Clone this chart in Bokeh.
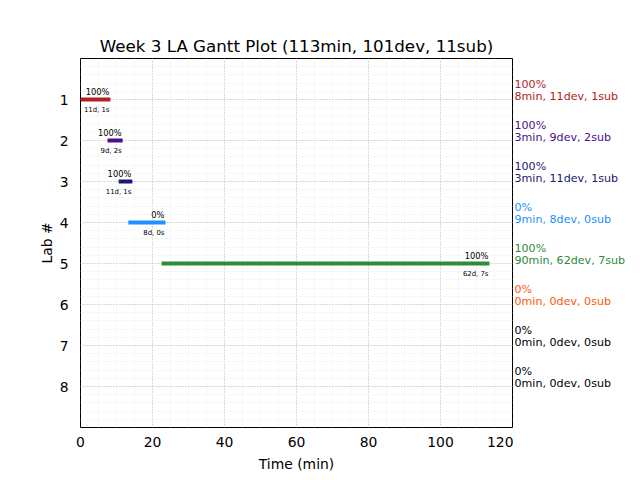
from bokeh.plotting import figure
from bokeh.layouts import row
from bokeh.models import FixedTicker, ColumnDataSource
from bokeh.core.properties import value
from bokeh.embed import file_html
from bokeh.resources import INLINE

# ---- data ----
labs = [1, 2, 3, 4, 5]
starts = [0.0, 7.5, 10.6, 13.3, 22.5]
ends = [8.3, 11.7, 14.4, 23.6, 113.6]
bar_pct = ["100%", "100%", "100%", "0%", "100%"]
bar_counts = ["11d, 1s", "9d, 2s", "11d, 1s", "8d, 0s", "62d, 7s"]
bar_colors = ["#b22222", "#4b0f8a", "#191970", "#1e90ff", "#2e8b3a"]

all_labs = [1, 2, 3, 4, 5, 6, 7, 8]
summary_pct = ["100%", "100%", "100%", "0%", "100%", "0%", "0%", "0%"]
summary_stats = ["8min, 11dev, 1sub", "3min, 9dev, 2sub", "3min, 11dev, 1sub",
                 "9min, 8dev, 0sub", "90min, 62dev, 7sub", "0min, 0dev, 0sub",
                 "0min, 0dev, 0sub", "0min, 0dev, 0sub"]
summary_colors = ["#b22222", "#4b0f8a", "#191970", "#1e90ff", "#2e8b3a",
                  "#ff5a0a", "#000000", "#000000"]
x_ticks = [0, 20, 40, 60, 80, 100, 120]
title_text = "Week 3 LA Gantt Plot (113min, 101dev, 11sub)"

FONT = "DejaVu Sans"
TOP, BOTTOM, FW, FH = 58, 45, 432, 369

p = figure(width=80 + FW + 1, height=TOP + FH + BOTTOM, x_range=(0, 120),
           y_range=(9, 0), output_backend="svg", toolbar_location=None,
           title=title_text, min_border_left=80, min_border_right=1,
           min_border_top=TOP, min_border_bottom=BOTTOM)
p.frame_width = FW
p.frame_height = FH

p.title.text_font = FONT
p.title.text_font_size = "16.7px"
p.title.text_font_style = "normal"
p.title.text_color = "black"
p.title.align = "center"
p.title.standoff = 6

p.outline_line_color = "black"
p.outline_line_width = 1
p.background_fill_color = "white"
p.border_fill_color = "white"

p.xaxis.ticker = FixedTicker(ticks=x_ticks, minor_ticks=list(range(0, 121, 5)))
p.yaxis.ticker = FixedTicker(ticks=all_labs, minor_ticks=[i / 5 for i in range(0, 46)])

for ax in (p.xaxis, p.yaxis):
    ax.axis_line_color = None
    ax.major_tick_line_color = None
    ax.minor_tick_line_color = None
    ax.major_label_text_font = FONT
    ax.major_label_text_font_size = "13.9px"
    ax.major_label_text_color = "black"
    ax.axis_label_text_font = FONT
    ax.axis_label_text_font_size = "13.9px"
    ax.axis_label_text_font_style = "normal"
    ax.axis_label_text_color = "black"
p.xaxis.axis_label = "Time (min)"
p.yaxis.axis_label = "Lab #"
p.xaxis.major_label_standoff = 3
p.yaxis.major_label_standoff = 6
p.xaxis.axis_label_standoff = 6
p.yaxis.axis_label_standoff = 2

for g in (p.xgrid, p.ygrid):
    g.grid_line_color = "#b0b0b0"
    g.grid_line_dash = "1 2"
    g.grid_line_width = 0.8
    g.minor_grid_line_color = "#f5f5f5"
    g.minor_grid_line_width = 0.8

src = ColumnDataSource(dict(lab=labs, start=starts, end=ends, pct=bar_pct,
                            counts=bar_counts, color=bar_colors))
p.segment(x0="start", y0="lab", x1="end", y1="lab", source=src,
          line_color="color", line_width=4, line_cap="butt")
p.text(x="end", y="lab", text="pct", source=src, text_align="right",
       text_baseline="alphabetic", y_offset=-8, x_offset=-1,
       text_font=value(FONT), text_font_size="8.3px", text_color="black")
p.text(x="end", y="lab", text="counts", source=src, text_align="right",
       text_baseline="alphabetic", y_offset=10, x_offset=-1,
       text_font=value(FONT), text_font_size="6.9px", text_color="black")

# right-hand summary column, sharing the lab axis
s = figure(width=119, height=TOP + FH + BOTTOM, x_range=(0, 1), y_range=p.y_range,
           output_backend="svg", toolbar_location=None,
           min_border_left=0, min_border_right=0,
           min_border_top=TOP, min_border_bottom=BOTTOM)
s.frame_width = 119
s.frame_height = FH
s.axis.visible = False
s.grid.visible = False
s.outline_line_color = None
s.background_fill_color = "white"
s.border_fill_color = "white"

ssrc = ColumnDataSource(dict(x=[0] * 8, lab=all_labs, pct=summary_pct,
                             stats=summary_stats, color=summary_colors))
s.text(x="x", y="lab", text="stats", source=ssrc, x_offset=1, y_offset=-3,
       text_baseline="alphabetic", text_align="left",
       text_font=value(FONT), text_font_size="11.1px", text_color="color")
s.text(x="x", y="lab", text="pct", source=ssrc, x_offset=1, y_offset=-15,
       text_baseline="alphabetic", text_align="left",
       text_font=value(FONT), text_font_size="11.1px", text_color="color")

layout = row(p, s, spacing=0)
open("out.html", "w").write(file_html(layout, INLINE))
